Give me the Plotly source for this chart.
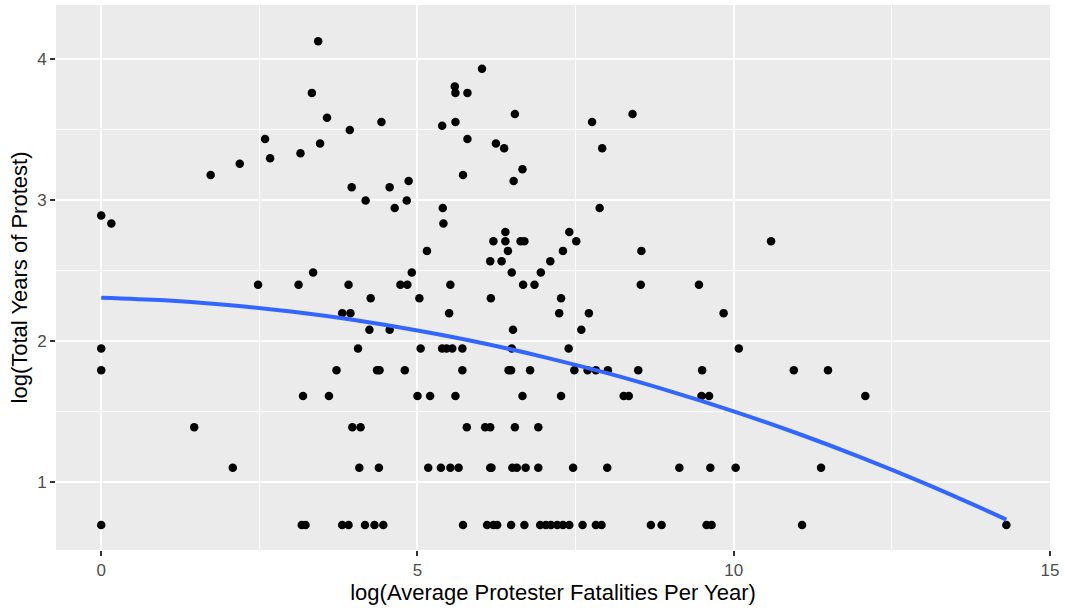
import plotly.graph_objects as go

# x values (log average protester fatalities per year), grouped by y level
y_levels = [4.127, 3.932, 3.807, 3.761, 3.611, 3.584, 3.555, 3.527, 3.497, 3.434,
            3.401, 3.367, 3.332, 3.296, 3.258, 3.219, 3.178, 3.135, 3.091, 2.996,
            2.944, 2.890, 2.833, 2.773, 2.708, 2.639, 2.565, 2.485, 2.398, 2.303,
            2.197, 2.079, 1.946, 1.792, 1.609, 1.386, 1.099, 0.693]
x_by_level = [
    [3.43],
    [6.02],
    [5.59],
    [3.33, 5.60, 5.79],
    [6.54, 8.40],
    [3.57],
    [4.43, 5.60, 7.76],
    [5.39],
    [3.93],
    [2.59, 5.79],
    [3.46, 6.24],
    [6.37, 7.92],
    [3.15],
    [2.67],
    [2.19],
    [6.66],
    [1.73, 5.72],
    [4.86, 6.52],
    [3.96, 4.56],
    [4.18, 4.83],
    [4.64, 5.40, 7.88],
    [0.00],
    [0.16, 5.41],
    [6.39, 7.40],
    [6.20, 6.39, 6.63, 6.69, 7.51, 10.59],
    [5.15, 6.43, 7.30, 8.54],
    [6.15, 6.33, 7.10],
    [3.35, 4.91, 6.49, 6.95],
    [2.48, 3.12, 3.91, 4.73, 4.84, 5.52, 6.67, 6.85, 8.53, 9.45],
    [4.26, 5.03, 6.16, 7.27],
    [3.81, 3.94, 5.50, 7.24, 7.71, 9.84],
    [4.24, 4.56, 6.51, 7.59],
    [0.00, 4.06, 5.05, 5.39, 5.46, 5.55, 5.71, 6.49, 7.39, 10.08],
    [0.00, 3.72, 4.36, 4.40, 4.80, 5.71, 6.44, 6.48, 6.78, 7.48, 7.69, 7.82,
     8.01, 8.49, 9.50, 10.95, 11.49],
    [3.19, 3.60, 5.00, 5.20, 5.60, 6.66, 7.27, 8.26, 8.34, 9.49, 9.61, 12.08],
    [1.47, 3.97, 4.10, 5.78, 6.07, 6.15, 6.54, 6.91],
    [2.08, 4.08, 4.39, 5.17, 5.37, 5.52, 5.65, 6.15, 6.17, 6.50, 6.57, 6.71,
     6.91, 7.46, 8.00, 9.14, 9.63, 10.03, 11.38],
    [0.00, 3.17, 3.23, 3.81, 3.91, 4.17, 4.32, 4.46, 5.72, 6.10, 6.20, 6.26,
     6.48, 6.69, 6.94, 7.03, 7.11, 7.21, 7.30, 7.40, 7.61, 7.82, 7.91, 8.69,
     8.86, 9.57, 9.65, 11.08, 14.31],
]

# smoothed trend line
smooth_x = [0, 1, 2, 3, 4, 5, 6, 7, 8, 9, 10, 11, 12, 13, 14, 14.31]
smooth_y = [2.307, 2.288, 2.255, 2.208, 2.148, 2.074, 1.987, 1.885, 1.771,
            1.642, 1.500, 1.344, 1.175, 0.992, 0.795, 0.731]

x_ticks = [0, 5, 10, 15]
y_ticks = [1, 2, 3, 4]

xs, ys = [], []
for yl, xl in zip(y_levels, x_by_level):
    for xv in xl:
        xs.append(xv)
        ys.append(yl)

fig = go.Figure()
fig.add_trace(go.Scatter(x=xs, y=ys, mode="markers",
                         marker=dict(color="black", size=8.5, line=dict(width=0)),
                         showlegend=False, hoverinfo="skip"))
fig.add_trace(go.Scatter(x=smooth_x, y=smooth_y, mode="lines",
                         line=dict(color="#3366FF", width=4, shape="spline"),
                         showlegend=False, hoverinfo="skip"))

tickfont = dict(family="Liberation Sans, Arial, sans-serif", size=17, color="#4D4D4D")
titlefont = dict(family="Liberation Sans, Arial, sans-serif", size=22, color="black")

fig.update_layout(
    width=1065, height=611,
    margin=dict(l=56, r=15, t=5, b=61, autoexpand=False),
    paper_bgcolor="white",
    plot_bgcolor="#EBEBEB",
    xaxis=dict(
        range=[-0.715, 15.0],
        tickvals=x_ticks, ticktext=[str(t) for t in x_ticks],
        showgrid=True, gridcolor="white", gridwidth=2,
        minor=dict(dtick=2.5, tick0=0, showgrid=True, gridcolor="white", gridwidth=1),
        zeroline=False, showline=False,
        ticks="outside", ticklen=5, tickwidth=1.5, tickcolor="#333333",
        tickfont=tickfont, automargin=False,
        title=dict(text="log(Average Protester Fatalities Per Year)", font=titlefont, standoff=3),
    ),
    yaxis=dict(
        range=[0.515, 4.385],
        tickvals=y_ticks, ticktext=[str(t) for t in y_ticks],
        showgrid=True, gridcolor="white", gridwidth=2,
        minor=dict(dtick=0.5, tick0=0, showgrid=True, gridcolor="white", gridwidth=1),
        zeroline=False, showline=False,
        ticks="outside", ticklen=5, tickwidth=1.5, tickcolor="#333333",
        tickfont=tickfont, automargin=False,
        title=dict(text="log(Total Years of Protest)", font=titlefont, standoff=3),
    ),
)

fig.write_html("out.html",
               config={"displayModeBar": False},
               post_script="document.body.style.margin='0';document.body.style.overflow='hidden';")
